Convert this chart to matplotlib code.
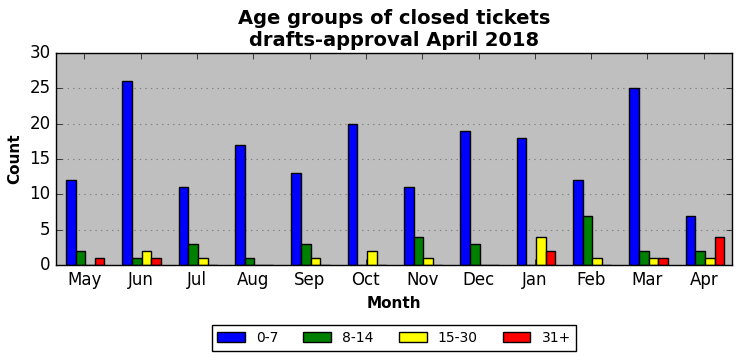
import matplotlib
matplotlib.use('Agg')
import matplotlib.pyplot as plt
import numpy as np

months = ['May', 'Jun', 'Jul', 'Aug', 'Sep', 'Oct', 'Nov', 'Dec', 'Jan', 'Feb', 'Mar', 'Apr']
age_groups = ['0-7', '8-14', '15-30', '31+']
counts_0_7 = [12, 26, 11, 17, 13, 20, 11, 19, 18, 12, 25, 7]
counts_8_14 = [2, 1, 3, 1, 3, 0, 4, 3, 0, 7, 2, 2]
counts_15_30 = [0, 2, 1, 0, 1, 2, 1, 0, 4, 1, 1, 1]
counts_31 = [1, 1, 0, 0, 0, 0, 0, 0, 2, 0, 1, 4]
colors = ['blue', 'green', 'yellow', 'red']

plt.style.use('classic')
fig = plt.figure(figsize=(7.42, 3.61), dpi=100)
ax = fig.add_axes([56 / 742, 1 - 265 / 361, 676 / 742, 212 / 361])
ax.set_facecolor('#bfbfbf')

series = [counts_0_7, counts_8_14, counts_15_30, counts_31]
x = np.arange(len(months))
w = 0.68 / 4
for i, (vals, col, lab) in enumerate(zip(series, colors, age_groups)):
    ax.bar(x - 0.32 + i * w, vals, width=w, align='edge', color=col,
           edgecolor='black', linewidth=1, label=lab)

ax.set_xlim(-0.5, 11.5)
ax.set_ylim(0, 30)
ax.set_yticks(range(0, 31, 5))
ax.set_xticks(x)
ax.set_xticklabels(months)
ax.tick_params(labelsize=12)
ax.yaxis.grid(True, color='gray', linestyle=':', linewidth=0.8)
ax.set_axisbelow(True)
ax.set_xlabel('Month', fontsize=11, fontweight='bold')
ax.set_ylabel('Count', fontsize=11, fontweight='bold')
ax.set_title('Age groups of closed tickets\ndrafts-approval April 2018',
             fontsize=14, fontweight='bold')

fig.legend(loc='center', bbox_to_anchor=(394 / 742, 1 - 338 / 361), ncol=4,
           fontsize=10, frameon=True, fancybox=False, columnspacing=1.8)

fig.savefig('out.png', dpi=100)
